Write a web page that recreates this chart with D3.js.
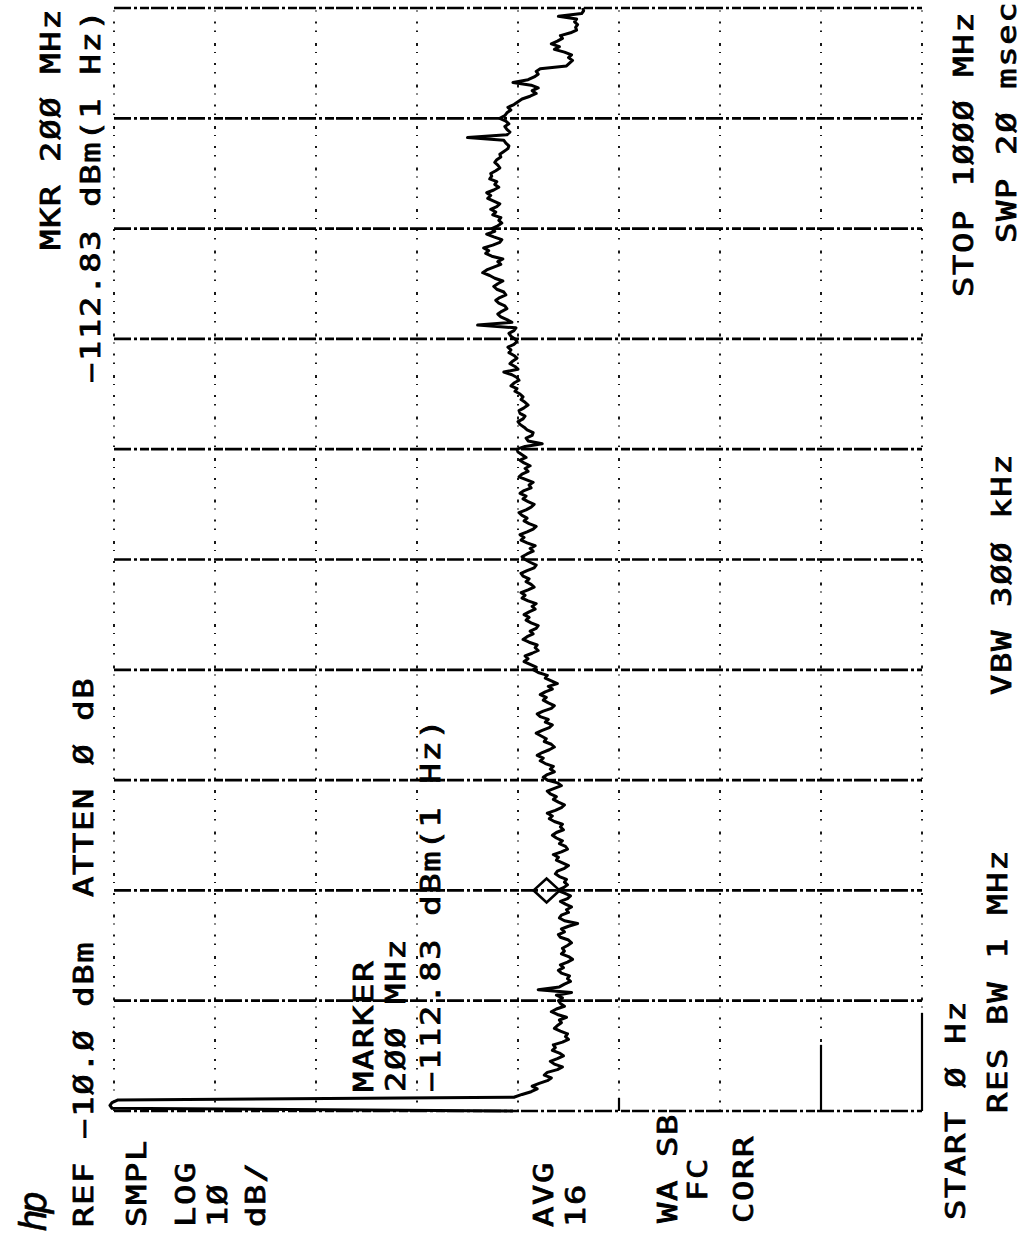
<!DOCTYPE html>
<html>
<head>
<meta charset="utf-8">
<script src="https://cdnjs.cloudflare.com/ajax/libs/d3/7.8.5/d3.min.js"></script>
<style>
  html, body { margin: 0; padding: 0; background: #fff; }
  svg { display: block; }
  text { font-family: "DejaVu Sans Mono", "Liberation Mono", monospace; fill: #000; }
</style>
</head>
<body>
<div id="chart"></div>
<script>

// analyzer settings (the plot is printed turned on its side)
const startMHz = 0, stopMHz = 1000;
const refDbm = -10, dbPerDiv = 10;

// graticule
const ampLevels = [-10, -20, -30, -40, -50, -60, -70, -80, -90];
const freqLines = [0, 100, 200, 300, 400, 500, 600, 700, 800, 900, 1000];

// marker
const markerMHz = 200;
const markerDbm = -52.83;

// averaged trace, 401 points from START to STOP, dBm
const trace = [
  -49.5, -9.8, -9.6, -9.8, -10.4, -49.6, -50.4, -51.3, -51.9, -51.4, -52.1, -52.9, -53.3, -52.6, -52.9, -53.9, -54.4, -53.6, -53.2, -53.9,
  -54.5, -54.1, -53.4, -53.7, -53.5, -54.4, -55.0, -54.7, -54.9, -54.2, -53.6, -53.9, -54.3, -54.1, -54.8, -53.9, -53.3, -53.8, -54.6, -54.2,
  -54.0, -54.4, -53.8, -55.3, -52.0, -54.1, -54.6, -55.2, -54.9, -55.1, -54.3, -54.0, -54.5, -54.2, -54.9, -55.4, -55.0, -54.3, -54.6, -54.4,
  -54.9, -55.3, -55.0, -54.2, -54.0, -54.6, -54.3, -55.0, -55.9, -54.6, -54.1, -54.3, -55.0, -54.8, -55.3, -54.7, -54.2, -54.9, -55.2, -54.6,
  -53.9, -54.5, -54.9, -54.6, -54.8, -54.1, -53.7, -53.9, -54.6, -55.0, -54.4, -53.8, -54.0, -53.5, -54.3, -54.9, -54.7, -54.1, -54.4, -53.8,
  -53.4, -53.8, -54.5, -54.2, -54.4, -53.6, -53.1, -53.4, -52.9, -53.7, -54.3, -54.6, -54.0, -53.5, -53.8, -53.2, -52.9, -53.6, -54.3, -53.9,
  -52.9, -52.5, -52.9, -53.6, -53.2, -53.5, -52.7, -52.2, -52.5, -51.9, -52.4, -53.1, -53.6, -53.3, -52.6, -52.8, -52.3, -51.8, -52.4, -53.1,
  -53.4, -52.7, -53.0, -52.2, -51.9, -52.5, -53.3, -53.6, -53.0, -52.5, -52.8, -52.2, -52.7, -53.4, -53.0, -53.9, -53.3, -52.7, -52.9, -52.0,
  -51.5, -51.8, -51.2, -50.6, -51.0, -50.7, -51.4, -52.0, -51.7, -51.9, -51.1, -50.5, -50.9, -51.5, -51.2, -51.8, -52.0, -51.3, -50.8, -51.1,
  -50.6, -51.1, -51.7, -51.4, -51.8, -51.0, -50.4, -50.7, -50.3, -51.0, -51.6, -51.3, -50.8, -51.1, -50.5, -50.3, -50.9, -51.6, -51.8, -51.2,
  -50.7, -50.4, -50.9, -51.5, -51.2, -51.7, -50.9, -50.3, -50.6, -50.2, -50.9, -51.5, -51.8, -51.1, -50.6, -50.9, -50.4, -50.1, -50.8, -51.3,
  -51.6, -51.0, -50.5, -50.8, -50.2, -50.6, -51.3, -51.1, -51.5, -50.8, -50.1, -50.4, -51.0, -50.7, -51.2, -50.6, -50.2, -50.8, -50.4, -50.0,
  -49.9, -50.7, -52.4, -51.0, -50.8, -51.4, -51.5, -50.9, -50.6, -50.2, -50.0, -50.5, -50.7, -50.2, -50.1, -50.6, -51.0, -50.7, -50.3, -50.5,
  -50.2, -49.7, -49.9, -49.3, -49.6, -50.1, -49.9, -49.4, -48.6, -50.0, -49.7, -49.2, -49.5, -49.9, -49.6, -49.1, -49.3, -49.0, -49.6, -49.9,
  -49.7, -49.3, -49.1, -49.6, -49.8, -46.0, -49.4, -48.9, -48.3, -48.0, -48.4, -48.9, -48.7, -48.1, -47.8, -48.2, -48.8, -48.6, -47.9, -47.6,
  -48.0, -48.5, -47.7, -47.2, -46.5, -46.9, -47.6, -48.3, -48.0, -48.5, -47.4, -46.8, -47.1, -46.6, -47.5, -48.2, -48.4, -47.6, -46.9, -47.7,
  -47.4, -48.0, -48.4, -48.1, -48.3, -47.5, -47.8, -47.3, -47.9, -48.2, -47.6, -47.0, -47.3, -46.9, -47.6, -48.1, -47.7, -47.9, -47.2, -47.4,
  -47.3, -47.8, -48.2, -48.0, -47.7, -47.9, -48.3, -48.2, -48.6, -49.0, -49.1, -48.8, -48.6, -45.0, -48.9, -49.2, -48.9, -48.7, -49.1, -48.8,
  -48.2, -48.7, -48.9, -49.3, -49.0, -49.6, -50.0, -50.4, -51.2, -51.8, -51.4, -52.0, -51.3, -49.5, -51.0, -51.6, -52.0, -51.8, -52.2, -54.8,
  -55.1, -55.4, -55.0, -55.3, -54.6, -53.6, -54.1, -53.3, -53.9, -54.4, -54.2, -55.2, -55.8, -55.7, -55.9, -55.6, -55.8, -54.0, -56.3, -56.5,
  -56.4
];

// screen annotations
const labels = [
  'REF −1Ø.Ø dBm', 'ATTEN Ø dB', 'MKR 2ØØ MHz', '−112.83 dBm(1 Hz)',
  'SMPL', 'LOG', '1Ø', 'dB/', 'AVG', '16', 'WA SB', 'FC', 'CORR',
  'START Ø Hz', 'STOP 1ØØØ MHz', 'RES BW 1 MHz', 'VBW 3ØØ kHz', 'SWP 2Ø msec',
  'MARKER', '2ØØ  MHz', '−112.83 dBm(1  Hz)'
];

const W = 1026, H = 1236;

const svg = d3.select('#chart').append('svg')
  .attr('width', W)
  .attr('height', H);

svg.append('rect').attr('width', W).attr('height', H).attr('fill', '#fff');

// amplitude runs left to right, frequency bottom to top
const x = d3.scaleLinear().domain([refDbm, refDbm - dbPerDiv * (ampLevels.length - 1)]).range([114, 922]);
const y = d3.scaleLinear().domain([startMHz, stopMHz]).range([1111, 8]);
const step = (stopMHz - startMHz) / (trace.length - 1);

const grid = svg.append('g').attr('stroke', '#000').attr('fill', 'none');

// amplitude divisions: sparse dotted
grid.selectAll('line.amp')
  .data(ampLevels)
  .join('line')
  .attr('class', 'amp')
  .attr('x1', d => x(d)).attr('x2', d => x(d))
  .attr('y1', y(startMHz)).attr('y2', y(stopMHz))
  .attr('stroke-width', 1.8)
  .attr('stroke-dasharray', '1.5 7 2 10 1 6 3 11');

// frequency divisions: heavy dash-dot
grid.selectAll('line.freq')
  .data(freqLines)
  .join('line')
  .attr('class', 'freq')
  .attr('x1', x(ampLevels[0])).attr('x2', x(ampLevels[ampLevels.length - 1]))
  .attr('y1', d => y(d)).attr('y2', d => y(d))
  .attr('stroke-width', 2.7)
  .attr('stroke-dasharray', '17 3 3 3 9 2');

// solid pen strokes left along the lower edge
grid.selectAll('line.pen')
  .data([[-90, 89], [-80, 60], [-60, 12]])
  .join('line')
  .attr('class', 'pen')
  .attr('x1', d => x(d[0])).attr('x2', d => x(d[0]))
  .attr('y1', y(startMHz)).attr('y2', d => y(d[1]))
  .attr('stroke-width', 2.2);

// trace
svg.append('path')
  .datum(trace)
  .attr('fill', 'none')
  .attr('stroke', '#000')
  .attr('stroke-width', 3)
  .attr('stroke-linejoin', 'round')
  .attr('d', d3.line()
    .x(d => x(d))
    .y((d, i) => y(startMHz + i * step)));

// marker diamond
const mx = x(markerDbm), my = y(markerMHz), r = 13;
svg.append('path')
  .attr('d', `M${mx - r},${my}L${mx},${my - r * 0.92}L${mx + r},${my}L${mx},${my + r * 0.92}Z`)
  .attr('fill', 'none')
  .attr('stroke', '#000')
  .attr('stroke-width', 2.6);

// text, reading upward; [baseline x, start y]
const spots = [
  [93, 1227], [93, 897], [60, 250], [100, 383],
  [146, 1227], [195, 1227], [227, 1227], [265, 1227], [553, 1227], [585, 1227],
  [677, 1223], [707, 1201], [753, 1223],
  [965, 1220], [973, 297], [1007, 1113], [1011, 695], [1016, 243],
  [373, 1092], [405, 1092], [440, 1092]
];

svg.append('g')
  .selectAll('text')
  .data(labels)
  .join('text')
  .attr('transform', (d, i) => `translate(${spots[i][0]},${spots[i][1]}) rotate(-90) scale(1.3,1)`)
  .attr('font-size', 26)
  .attr('letter-spacing', 1.3)
  .attr('stroke', '#000')
  .attr('stroke-width', 0.8)
  .text(d => d);

// hp logo
svg.append('text')
  .attr('transform', 'translate(46,1232) rotate(-90)')
  .attr('font-family', 'DejaVu Serif')
  .attr('font-style', 'italic')
  .attr('font-size', 38)
  .attr('letter-spacing', -5)
  .attr('stroke', '#000')
  .attr('stroke-width', 0.6)
  .text('hp');

</script>
</body>
</html>
